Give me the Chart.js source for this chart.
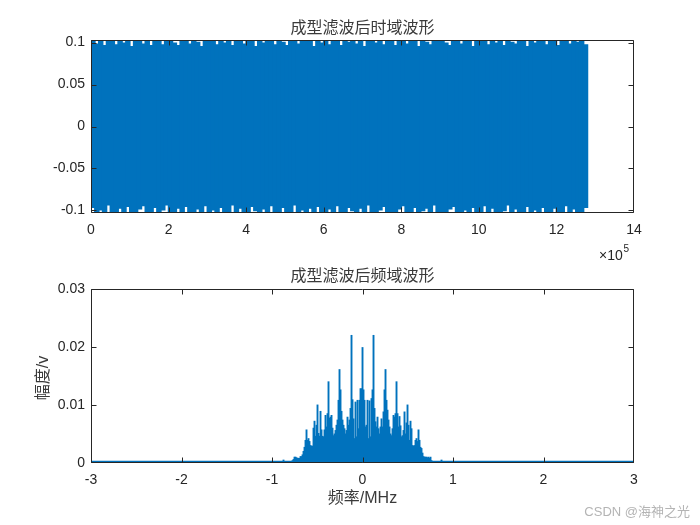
<!DOCTYPE html>
<html><head><meta charset="utf-8">
<script src="https://cdn.jsdelivr.net/npm/chart.js@4.4.1/dist/chart.umd.min.js"></script>
<style>
html,body{margin:0;padding:0;background:#fff;}
#wrap{position:relative;width:700px;height:525px;overflow:hidden;}
canvas{position:absolute;left:0;top:0;}
</style></head><body>
<div id="wrap"><canvas id="c1" width="700" height="525"></canvas><canvas id="c2" width="700" height="525"></canvas></div>
<script>
// ---------- texts ----------
const timeTitle = '成型滤波后时域波形';
const freqTitle = '成型滤波后频域波形';
const freqXLabel = '频率/MHz';
const freqYLabel = '幅度/v';
const watermark = 'CSDN @海神之光';
const expBase = '×10';
const expPow = '5';

// ---------- tick values ----------
const timeXTicks = [0, 2e5, 4e5, 6e5, 8e5, 10e5, 12e5, 14e5];
const timeYTicks = [-0.1, -0.05, 0, 0.05, 0.1];
const freqXTicks = [-3, -2, -1, 0, 1, 2, 3];
const freqYTicks = [0, 0.01, 0.02, 0.03];

// ---------- time-domain envelope (per 1e4-sample bin: max / min) ----------
const timeBinSize = 1e4;
const timeUpper = [
0.104,0.098,0.103,0.096,0.104,0.101,0.097,0.104,0.099,0.103,
0.095,0.104,0.102,0.098,0.104,0.096,0.103,0.104,0.097,0.102,
0.104,0.099,0.096,0.104,0.103,0.098,0.104,0.100,0.095,0.104,
0.102,0.104,0.097,0.103,0.099,0.104,0.096,0.104,0.101,0.098,
0.104,0.103,0.095,0.104,0.099,0.102,0.104,0.097,0.104,0.100,
0.096,0.104,0.103,0.098,0.104,0.101,0.104,0.095,0.103,0.099,
0.104,0.097,0.102,0.104,0.096,0.104,0.100,0.103,0.098,0.104,
0.095,0.104,0.102,0.099,0.104,0.097,0.103,0.104,0.096,0.101,
0.104,0.098,0.104,0.103,0.095,0.104,0.100,0.097,0.104,0.102,
0.104,0.099,0.096,0.104,0.103,0.098,0.104,0.101,0.095,0.104,
0.102,0.104,0.097,0.103,0.099,0.104,0.096,0.104,0.100,0.098,
0.104,0.103,0.095,0.104,0.099,0.102,0.104,0.097,0.104,0.101,
0.096,0.104,0.103,0.098,0.104,0.100,0.104,0.097];
const timeLower = [
-0.096,-0.104,-0.099,-0.103,-0.093,-0.104,-0.101,-0.097,-0.104,-0.095,
-0.103,-0.104,-0.098,-0.094,-0.104,-0.102,-0.096,-0.104,-0.099,-0.093,
-0.104,-0.103,-0.097,-0.104,-0.095,-0.101,-0.104,-0.098,-0.104,-0.094,
-0.103,-0.099,-0.104,-0.096,-0.104,-0.102,-0.093,-0.104,-0.097,-0.103,
-0.104,-0.095,-0.100,-0.104,-0.098,-0.104,-0.094,-0.103,-0.104,-0.096,
-0.101,-0.104,-0.093,-0.104,-0.099,-0.103,-0.097,-0.104,-0.095,-0.104,
-0.102,-0.098,-0.104,-0.094,-0.103,-0.104,-0.096,-0.100,-0.104,-0.097,
-0.104,-0.093,-0.103,-0.104,-0.099,-0.095,-0.104,-0.101,-0.104,-0.098,
-0.094,-0.104,-0.103,-0.096,-0.104,-0.100,-0.097,-0.104,-0.093,-0.104,
-0.102,-0.104,-0.098,-0.095,-0.104,-0.103,-0.099,-0.104,-0.096,-0.101,
-0.104,-0.094,-0.104,-0.097,-0.103,-0.104,-0.100,-0.093,-0.104,-0.098,
-0.104,-0.102,-0.095,-0.104,-0.099,-0.104,-0.096,-0.103,-0.104,-0.097,
-0.101,-0.104,-0.094,-0.104,-0.098,-0.103,-0.104,-0.096];

// ---------- spectrum (MHz grid start/step, amplitudes) ----------
const specStart = -0.906;
const specStep = 0.01105;
const specValues = [
0.0002,0.0002,0.0002,0.0005,0.0002,0.0002,0.0002,0.0002,0.0002,0.0002,0.0002,0.0002,
0.0004,0.0006,0.0010,0.0010,0.0009,0.0008,0.0008,0.0008,0.0011,0.0011,
0.0014,0.0020,0.0027,0.0039,0.0057,0.0039,0.0042,0.0037,0.0030,0.0029,
0.0029,0.0060,0.0072,0.0046,0.0065,0.0100,0.0051,0.0046,0.0089,0.0057,
0.0046,0.0045,0.0057,0.0082,0.0062,0.0085,0.0140,0.0077,0.0079,0.0082,
0.0060,0.0047,0.0050,0.0056,0.0065,0.0074,0.0108,0.0161,0.0126,0.0089,
0.0074,0.0065,0.0059,0.0050,0.0056,0.0079,0.0065,0.0074,0.0094,0.0220,
0.0109,0.0076,0.0042,0.0105,0.0045,0.0108,0.0059,0.0108,0.0128,0.0128,
0.0199,0.0126,0.0108,0.0062,0.0065,0.0108,0.0042,0.0107,0.0045,0.0111,
0.0126,0.0220,0.0094,0.0071,0.0062,0.0079,0.0059,0.0050,0.0062,0.0076,
0.0062,0.0088,0.0126,0.0161,0.0108,0.0091,0.0074,0.0062,0.0050,0.0047,
0.0059,0.0082,0.0079,0.0085,0.0140,0.0085,0.0062,0.0080,0.0064,0.0045,
0.0047,0.0056,0.0088,0.0050,0.0069,0.0100,0.0065,0.0039,0.0072,0.0059,
0.0030,0.0029,0.0030,0.0039,0.0042,0.0037,0.0057,0.0039,0.0027,0.0025,
0.0017,0.0011,0.0010,0.0010,0.0010,0.0009,0.0010,0.0008,0.0010,0.0004,
0.0002,0.0002,0.0002,0.0002,0.0002,0.0002,0.0002,0.0002,0.0002,0.0005,0.0002,0.0002,0.0002];
const noiseFloorX = [-3, 3];
const noiseFloorY = [0.0002, 0.0002];

// ---------- styling ----------
const AX = '#262626';
const BLUE = '#0072BD';
const tickFont = {family: "'Liberation Sans', Arial, sans-serif", size: 14};
const CJK = "'Liberation Sans', 'Noto Sans CJK SC', sans-serif";

const frame = {
  id: 'frame',
  afterDatasetsDraw(chart) {
    const {ctx, chartArea: a, scales: {x, y}} = chart;
    ctx.save();
    ctx.strokeStyle = AX; ctx.lineWidth = 1;
    const L = Math.round(a.left) + 0.5, R = Math.round(a.right) - 0.5;
    const T = Math.round(a.top) + 0.5, B = Math.round(a.bottom) - 0.5;
    ctx.beginPath();
    ctx.rect(L, T, R - L, B - T);
    x.ticks.forEach(t => {
      const px = Math.min(R, Math.max(L, Math.round(x.getPixelForValue(t.value)) + 0.5));
      ctx.moveTo(px, B); ctx.lineTo(px, B - 5);
      ctx.moveTo(px, T); ctx.lineTo(px, T + 5);
    });
    y.ticks.forEach(t => {
      const py = Math.min(B, Math.max(T, Math.round(y.getPixelForValue(t.value)) + 0.5));
      ctx.moveTo(L, py); ctx.lineTo(L + 5, py);
      ctx.moveTo(R, py); ctx.lineTo(R - 5, py);
    });
    ctx.stroke();
    ctx.restore();
  }
};

function textPlugin(items) {
  return {
    id: 'texts',
    afterDraw(chart) {
      const ctx = chart.ctx;
      items.forEach(it => {
        ctx.save();
        ctx.font = it.font;
        ctx.fillStyle = it.color || AX;
        ctx.textAlign = it.align || 'center';
        ctx.textBaseline = 'middle';
        ctx.translate(it.x, it.y);
        if (it.rot) ctx.rotate(it.rot);
        ctx.fillText(it.text, 0, 0);
        ctx.restore();
      });
    }
  };
}

function axisCommon(ticksArr, extra) {
  return Object.assign({
    type: 'linear',
    offset: false,
    grid: {display: false, drawTicks: false, offset: false},
    border: {display: false},
    afterBuildTicks: s => { s.ticks = ticksArr.map(v => ({value: v})); },
  }, extra);
}

// ---------- top chart ----------
new Chart(document.getElementById('c1'), {
  type: 'bar',
  data: {
    datasets: [{
      data: timeUpper.map((hi, i) => ({x: (i + 0.5) * timeBinSize, y: [timeLower[i], hi]})),
      backgroundColor: BLUE, borderWidth: 0, inflateAmount: 0.8,
      barPercentage: 1, categoryPercentage: 1, clip: 0
    }]
  },
  options: {
    responsive: false, animation: false, devicePixelRatio: 1,
    layout: {padding: {left: 0, right: 66, top: 40, bottom: 272}},
    plugins: {legend: {display: false}, tooltip: {enabled: false}, title: {display: false}},
    scales: {
      x: axisCommon(timeXTicks, {
        min: 0, max: 14e5,
        afterFit: s => { s.height = 40; },
        ticks: {font: tickFont, color: AX, padding: 9, maxRotation: 0, autoSkip: false,
                callback: v => String(Math.round(v / 1e5))}
      }),
      y: axisCommon(timeYTicks, {
        min: -0.103, max: 0.103,
        afterFit: s => { s.width = 91; },
        ticks: {font: tickFont, color: AX, padding: 6, autoSkip: false,
                callback: v => String(+(+v).toFixed(4))}
      })
    }
  },
  plugins: [frame, textPlugin([
    {text: timeTitle, x: 362.5, y: 29, font: "16px " + CJK, color: '#3a3a3a'},
    {text: expBase, x: 599, y: 256, font: "14px " + CJK, align: 'left'},
    {text: expPow, x: 623.5, y: 249, font: "10px " + CJK, align: 'left'}
  ])]
});

// ---------- bottom chart ----------
new Chart(document.getElementById('c2'), {
  type: 'bar',
  data: {
    datasets: [{
      data: specValues.map((v, i) => ({x: specStart + i * specStep, y: v})),
      backgroundColor: BLUE, borderWidth: 0, inflateAmount: 0.45,
      barPercentage: 1, categoryPercentage: 1, clip: 0
    }, {
      type: 'line',
      data: noiseFloorX.map((x, i) => ({x: x, y: noiseFloorY[i]})),
      borderColor: BLUE, borderWidth: 2, pointRadius: 0, fill: false
    }]
  },
  options: {
    responsive: false, animation: false, devicePixelRatio: 1,
    layout: {padding: {left: 0, right: 66, top: 289, bottom: 22}},
    plugins: {legend: {display: false}, tooltip: {enabled: false}, title: {display: false}},
    scales: {
      x: axisCommon(freqXTicks, {
        min: -3, max: 3,
        afterFit: s => { s.height = 40; },
        ticks: {font: tickFont, color: AX, padding: 9, maxRotation: 0, autoSkip: false,
                callback: v => String(v)}
      }),
      y: axisCommon(freqYTicks, {
        min: 0, max: 0.03,
        afterFit: s => { s.width = 91; },
        ticks: {font: tickFont, color: AX, padding: 6, autoSkip: false,
                callback: v => String(+(+v).toFixed(4))}
      })
    }
  },
  plugins: [frame, textPlugin([
    {text: freqTitle, x: 362.5, y: 277, font: "16px " + CJK, color: '#3a3a3a'},
    {text: freqXLabel, x: 362.5, y: 499, font: "16px " + CJK, color: '#3a3a3a'},
    {text: freqYLabel, x: 44, y: 378, font: "16px " + CJK, rot: -Math.PI / 2, color: '#3a3a3a'},
    {text: watermark, x: 690, y: 512, font: "13px " + CJK, align: 'right', color: '#b4b4b4'}
  ])]
});
</script>
</body></html>
